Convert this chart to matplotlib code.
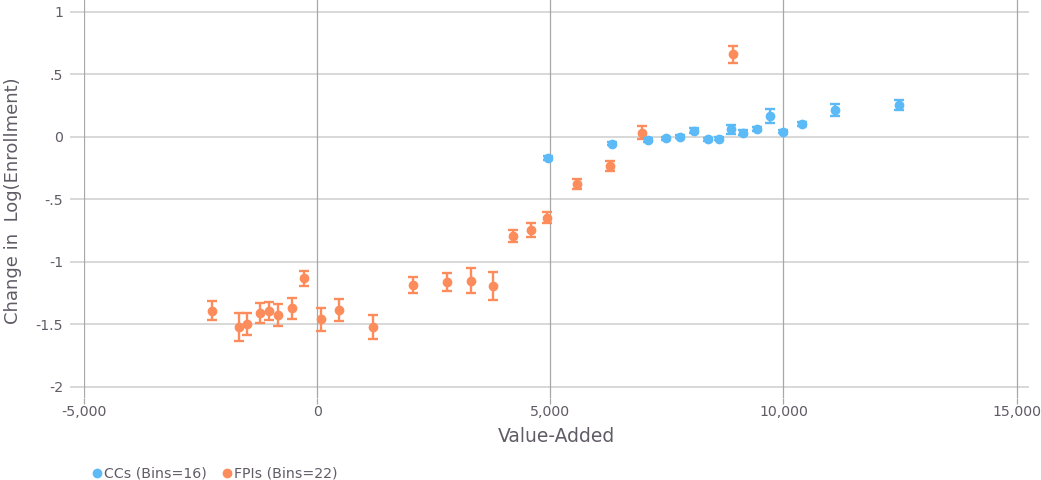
import numpy as np
import matplotlib.pyplot as plt
from matplotlib.ticker import FuncFormatter

plt.rcParams["font.family"] = ["DejaVu Sans"]

# CCs (16 bins)
cc_x = [4940, 6324, 7088, 7488, 7773, 8088, 8373, 8623, 8880, 9128, 9422, 9715, 9985, 10400, 11107, 12470]
cc_y = [-0.171, -0.053, -0.024, -0.011, 0.003, 0.051, -0.019, -0.013, 0.061, 0.035, 0.061, 0.168, 0.040, 0.104, 0.216, 0.256]
cc_err = [0.015, 0.015, 0.015, 0.012, 0.015, 0.022, 0.012, 0.012, 0.035, 0.018, 0.015, 0.058, 0.012, 0.018, 0.045, 0.038]

# FPIs (22 bins)
fpi_x = [-2255, -1685, -1499, -1227, -1034, -842, -542, -272, 79, 478, 1206,
         2056, 2777, 3298, 3769, 4190, 4575, 4925, 5567, 6289, 6959, 8922]
fpi_y = [-1.39, -1.518, -1.496, -1.41, -1.39, -1.424, -1.37, -1.13, -1.458, -1.384, -1.52,
         -1.184, -1.16, -1.152, -1.192, -0.792, -0.744, -0.645, -0.379, -0.232, 0.035, 0.661]
fpi_err = [0.074, 0.113, 0.087, 0.08, 0.073, 0.087, 0.084, 0.061, 0.093, 0.09, 0.094,
           0.061, 0.069, 0.10, 0.113, 0.048, 0.059, 0.047, 0.04, 0.04, 0.05, 0.07]

x_ticks = [-5000, 0, 5000, 10000, 15000]
y_ticks = [-2, -1.5, -1, -0.5, 0, 0.5, 1]

CC_COLOR = "#5cbaf7"
FPI_COLOR = "#fc8c5b"
GRID_H = "#d2d2d2"
GRID_V = "#a8a8a8"
TEXT = "#615b66"


def fmt_y(v, _):
    if v == 0:
        return "0"
    return f"{v:g}".replace("0.", ".")


fig = plt.figure(figsize=(10.41, 4.8), dpi=100)
ax = fig.add_axes([0.0807, 0.171, 0.908, 0.829])

ax.errorbar(fpi_x, fpi_y, yerr=fpi_err, fmt="o", color=FPI_COLOR, ms=6,
            elinewidth=1.7, capsize=3.5, capthick=1.7, zorder=3)
ax.errorbar(cc_x, cc_y, yerr=cc_err, fmt="o", color=CC_COLOR, ms=6,
            elinewidth=1.7, capsize=3.5, capthick=1.7, zorder=4)

ax.set_xlim(-5000, 15270)
ax.set_ylim(-2.088, 1.096)
ax.set_xticks(x_ticks)
ax.set_yticks(y_ticks)
ax.xaxis.set_major_formatter(FuncFormatter(lambda v, _: f"{int(v):,}"))
ax.yaxis.set_major_formatter(FuncFormatter(fmt_y))

for v in y_ticks:
    ax.axhline(v, color=GRID_H, lw=1.2, zorder=1)
for v in x_ticks:
    ax.axvline(v, color=GRID_V, lw=0.9, zorder=1)

for s in ax.spines.values():
    s.set_visible(False)

ax.tick_params(axis="y", length=10, width=1.2, color=GRID_H, labelsize=10.2,
               labelcolor=TEXT, pad=5)
ax.tick_params(axis="x", length=4, width=0.9, color=GRID_V, labelsize=10.2,
               labelcolor=TEXT, pad=1)

ax.set_xlabel("Value-Added", fontsize=13.5, color=TEXT, labelpad=6)
fig.text(13 / 1041, 1 - 201 / 480, "Change in  Log(Enrollment)", rotation=90,
         ha="center", va="center", fontsize=13, color=TEXT)

leg_handles = [plt.Line2D([], [], marker="o", ls="", color=CC_COLOR, ms=6),
               plt.Line2D([], [], marker="o", ls="", color=FPI_COLOR, ms=6)]
fig.legend(leg_handles, ["CCs (Bins=16)", "FPIs (Bins=22)"], loc="lower left",
           bbox_to_anchor=(0.074, -0.028), ncol=2, frameon=False, fontsize=10.2,
           handletextpad=0.0, columnspacing=0.9, labelcolor=TEXT, handlelength=1.0)

fig.savefig("out.png", dpi=100)
